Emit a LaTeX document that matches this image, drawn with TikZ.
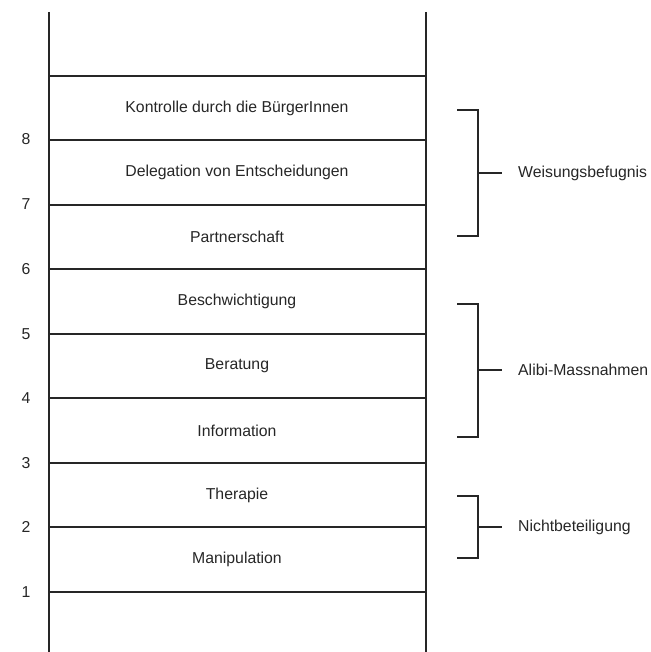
\documentclass[tikz,border=0pt]{standalone}
\usepackage{fontspec}
\setmainfont{Liberation Sans}
\usepackage{tikz}
\usetikzlibrary{positioning}
\tikzset{Ladder/.style = {% styles of the ladder picture
      rail/.style = {line width=1.6pt, black!85},
      rung/.style = {line width=1.3pt, black!85},
     stage/.style = {inner sep=0pt, text=black!85, font=\fontsize{15.8}{18}\selectfont},
     level/.style = {stage, anchor=base},
   bracket/.style = {line width=1.2pt, black!85},
     group/.style = {stage, anchor=west}}
        }

\begin{document}
\begin{tikzpicture}[Ladder, x=1pt, y=-1pt]
\useasboundingbox (0,0) rectangle (650,652);

% rails
\coordinate (lTop) at (49,12);   \coordinate (lBot) at (49,652);
\coordinate (rTop) at (426,12);  \coordinate (rBot) at (426,652);
\draw [rail] (lTop) -- (lBot);
\draw [rail] (rTop) -- (rBot);

% rungs
\foreach \y in {76,140,205,269,334,398,463,527,592}
  \draw [rung] (49,\y) -- (426,\y);

% nodes
\node (kontrolle)    [stage] at (237,108) {Kontrolle durch die BürgerInnen};
\node (delegation)   [stage] at (237,172.5) {Delegation von Entscheidungen};
\node (partner)      [stage] at (237,237) {Partnerschaft};
\node (beschw)       [stage] at (237,301.5) {Beschwichtigung};
\node (beratung)     [stage] at (237,366) {Beratung};
\node (information)  [stage] at (237,430.5) {Information};
\node (therapie)     [stage] at (237,495) {Therapie};
\node (manipulation) [stage] at (237,559.5) {Manipulation};

% levels
\node (l8) [level] at (26,145) {8};
\node (l7) [level] at (26,210) {7};
\node (l6) [level] at (26,274) {6};
\node (l5) [level] at (26,339) {5};
\node (l4) [level] at (26,403) {4};
\node (l3) [level] at (26,468) {3};
\node (l2) [level] at (26,532) {2};
\node (l1) [level] at (26,597) {1};

% groups
\node (weisung) [group] at (518,173) {Weisungsbefugnis};
\node (alibi)   [group] at (518,370) {Alibi-Massnahmen};
\node (nicht)   [group] at (518,527) {Nichtbeteiligung};

% brackets
\coordinate (wTop) at (457,110);  \coordinate (wBot) at (457,236);
\coordinate (aTop) at (457,304);  \coordinate (aBot) at (457,437);
\coordinate (nTop) at (457,496);  \coordinate (nBot) at (457,558);
\draw [bracket] (wTop) -- ++(21,0) |- (wBot);
\draw [bracket] (aTop) -- ++(21,0) |- (aBot);
\draw [bracket] (nTop) -- ++(21,0) |- (nBot);
\draw [bracket, shorten >=16pt] (478,173) -- (weisung.west);
\draw [bracket, shorten >=16pt] (478,370) -- (alibi.west);
\draw [bracket, shorten >=16pt] (478,527) -- (nicht.west);

\end{tikzpicture}
\end{document}
